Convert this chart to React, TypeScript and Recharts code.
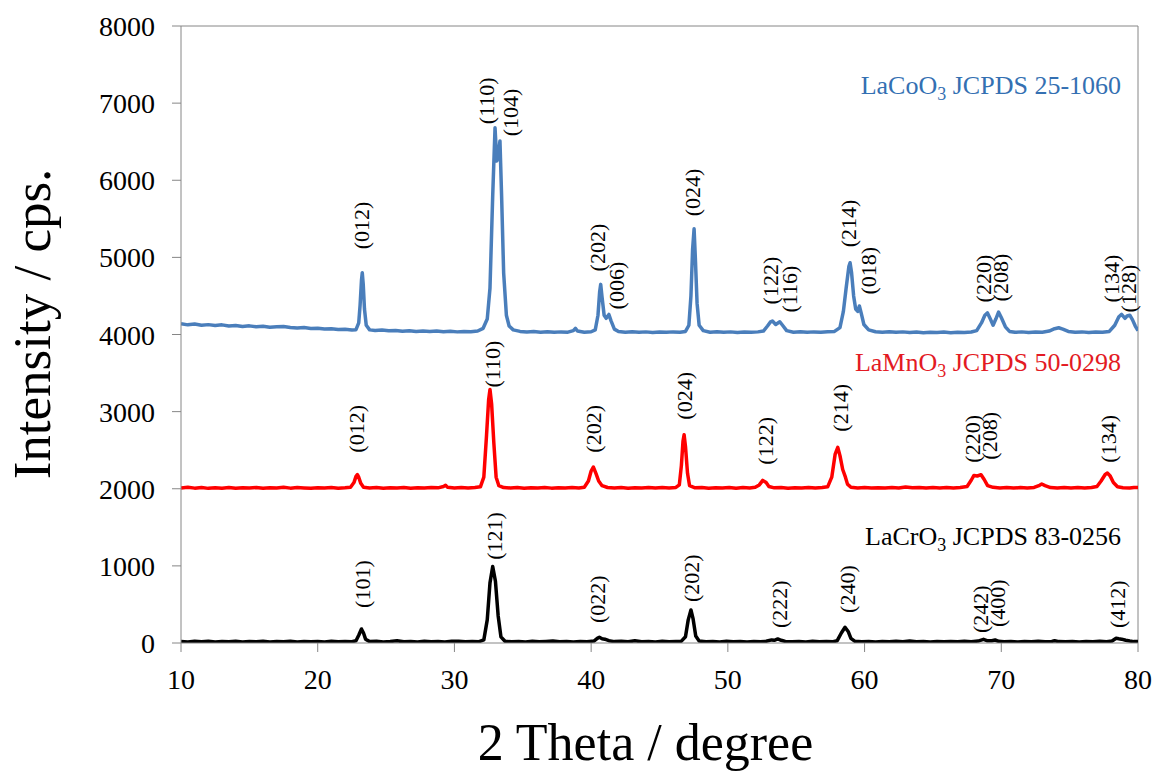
import React from "react"
import { LineChart, Line, XAxis, YAxis, ReferenceDot, ReferenceLine } from "recharts"

const FONT = '"Liberation Serif", "Times New Roman", serif'

// 2 theta / intensity pairs
const laCoO3: [number, number][] = [
  [10, 4140], [10.5, 4125], [11, 4135], [11.5, 4120], [12, 4128], [12.5, 4118], [13, 4125], [13.5, 4110],
  [14, 4118], [14.5, 4105], [15, 4112], [15.5, 4100], [16, 4106], [16.5, 4095], [17, 4100], [17.5, 4104],
  [18, 4092], [18.5, 4085], [19, 4090], [19.5, 4078], [20, 4082], [20.5, 4070], [21, 4074], [21.5, 4065],
  [22, 4068], [22.5, 4058], [22.8, 4062], [23.0, 4150], [23.1, 4380], [23.2, 4700], [23.26, 4800],
  [23.33, 4650], [23.42, 4330], [23.55, 4120], [23.8, 4060], [24.2, 4052], [24.7, 4058], [25.2, 4048],
  [25.7, 4052], [26.2, 4042], [26.7, 4048], [27.2, 4040], [27.7, 4046], [28.2, 4038], [28.7, 4044],
  [29.2, 4035], [29.7, 4042], [30.2, 4034], [30.7, 4040], [31.2, 4036], [31.7, 4045], [32.1, 4080],
  [32.4, 4200], [32.6, 4600], [32.8, 5800], [32.97, 6680], [33.1, 6250], [33.2, 6300], [33.33, 6510],
  [33.45, 5800], [33.6, 4800], [33.8, 4250], [34.0, 4110], [34.3, 4060], [34.8, 4040], [35.3, 4032],
  [35.8, 4038], [36.3, 4030], [36.8, 4036], [37.3, 4028], [37.8, 4034], [38.3, 4030], [38.7, 4050],
  [38.85, 4080], [39.0, 4045], [39.5, 4030], [40.0, 4036], [40.3, 4060], [40.5, 4250], [40.62, 4550],
  [40.7, 4650], [40.8, 4480], [40.95, 4250], [41.1, 4210], [41.3, 4260], [41.45, 4180], [41.7, 4070],
  [42.0, 4040], [42.5, 4030], [43.0, 4035], [43.5, 4028], [44.0, 4034], [44.5, 4026], [45.0, 4032],
  [45.5, 4028], [46.0, 4034], [46.5, 4030], [46.9, 4040], [47.15, 4120], [47.3, 4500], [47.42, 5100],
  [47.53, 5370], [47.62, 5000], [47.75, 4400], [47.9, 4120], [48.2, 4050], [48.7, 4030], [49.2, 4036],
  [49.7, 4028], [50.2, 4034], [50.7, 4026], [51.2, 4032], [51.7, 4028], [52.2, 4034], [52.6, 4045],
  [52.9, 4110], [53.1, 4160], [53.26, 4175], [53.5, 4130], [53.8, 4165], [54.0, 4120], [54.3, 4050],
  [54.8, 4030], [55.3, 4036], [55.8, 4028], [56.3, 4034], [56.8, 4030], [57.3, 4036], [57.8, 4040],
  [58.2, 4090], [58.45, 4300], [58.65, 4600], [58.85, 4880], [58.94, 4930], [59.05, 4800], [59.2, 4500],
  [59.35, 4330], [59.5, 4300], [59.62, 4370], [59.75, 4280], [59.95, 4130], [60.3, 4060], [60.8, 4035],
  [61.3, 4030], [61.8, 4036], [62.3, 4028], [62.8, 4034], [63.3, 4026], [63.8, 4032], [64.3, 4024],
  [64.8, 4030], [65.3, 4026], [65.8, 4032], [66.3, 4024], [66.8, 4030], [67.3, 4026], [67.8, 4032],
  [68.2, 4050], [68.55, 4150], [68.8, 4250], [68.99, 4280], [69.2, 4200], [69.4, 4120], [69.6, 4200],
  [69.8, 4290], [70.0, 4220], [70.3, 4100], [70.6, 4040], [71.0, 4028], [71.5, 4034], [72.0, 4026],
  [72.5, 4032], [73.0, 4030], [73.5, 4045], [73.9, 4075], [74.2, 4087], [74.5, 4070], [74.9, 4040],
  [75.4, 4030], [75.9, 4034], [76.4, 4026], [76.9, 4032], [77.4, 4028], [77.9, 4040], [78.3, 4120],
  [78.6, 4230], [78.8, 4260], [79.05, 4210], [79.2, 4240], [79.4, 4250], [79.6, 4190], [79.8, 4110],
  [80, 4050],
]

const laMnO3: [number, number][] = [
  [10, 2010], [10.5, 2018], [11, 2008], [11.5, 2015], [12, 2005], [12.5, 2014], [13, 2008], [13.5, 2016],
  [14, 2006], [14.5, 2013], [15, 2009], [15.5, 2017], [16, 2007], [16.5, 2014], [17, 2010], [17.5, 2018],
  [18, 2008], [18.5, 2015], [19, 2011], [19.5, 2006], [20, 2014], [20.5, 2009], [21, 2016], [21.5, 2008],
  [22, 2013], [22.4, 2020], [22.65, 2080], [22.8, 2160], [22.9, 2182], [23.0, 2150], [23.15, 2070],
  [23.35, 2020], [23.8, 2010], [24.3, 2016], [24.8, 2008], [25.3, 2014], [25.8, 2010], [26.3, 2017],
  [26.8, 2007], [27.3, 2014], [27.8, 2010], [28.3, 2016], [28.8, 2012], [29.2, 2030], [29.35, 2045],
  [29.5, 2018], [30, 2010], [30.5, 2016], [31, 2009], [31.5, 2015], [31.9, 2025], [32.15, 2150],
  [32.35, 2700], [32.5, 3150], [32.6, 3286], [32.72, 3100], [32.88, 2600], [33.05, 2150], [33.25, 2040],
  [33.6, 2015], [34.1, 2010], [34.6, 2016], [35.1, 2008], [35.6, 2014], [36.1, 2010], [36.6, 2017],
  [37.1, 2008], [37.6, 2014], [38.1, 2010], [38.6, 2016], [39.1, 2009], [39.5, 2020], [39.8, 2100],
  [40.0, 2230], [40.16, 2282], [40.35, 2200], [40.55, 2100], [40.8, 2040], [41.2, 2016], [41.7, 2010],
  [42.2, 2016], [42.7, 2008], [43.2, 2014], [43.7, 2010], [44.2, 2016], [44.7, 2009], [45.2, 2015],
  [45.7, 2011], [46.2, 2017], [46.45, 2050], [46.6, 2300], [46.72, 2620], [46.8, 2700], [46.9, 2550],
  [47.05, 2200], [47.2, 2040], [47.6, 2012], [48.1, 2016], [48.6, 2008], [49.1, 2014], [49.6, 2010],
  [50.1, 2016], [50.6, 2008], [51.1, 2015], [51.6, 2010], [52.0, 2018], [52.3, 2050], [52.55, 2108],
  [52.8, 2080], [53.0, 2030], [53.4, 2012], [53.9, 2016], [54.4, 2008], [54.9, 2014], [55.4, 2010],
  [55.9, 2017], [56.4, 2009], [56.9, 2015], [57.3, 2025], [57.6, 2150], [57.85, 2450], [58.04, 2537],
  [58.2, 2430], [58.4, 2250], [58.6, 2150], [58.75, 2060], [59.0, 2020], [59.5, 2010], [60.0, 2016],
  [60.5, 2009], [61, 2014], [61.5, 2010], [62, 2017], [62.5, 2011], [63, 2024], [63.5, 2012], [64, 2016],
  [64.5, 2009], [65, 2015], [65.5, 2011], [66, 2017], [66.5, 2010], [67, 2016], [67.5, 2030], [67.8, 2110],
  [68.0, 2173], [68.25, 2165], [68.52, 2182], [68.75, 2120], [69.0, 2040], [69.4, 2018], [69.9, 2010],
  [70.4, 2016], [70.9, 2009], [71.4, 2015], [71.9, 2011], [72.4, 2017], [72.8, 2045], [72.96, 2061],
  [73.2, 2040], [73.6, 2015], [74.1, 2010], [74.6, 2016], [75.1, 2009], [75.6, 2015], [76.1, 2011],
  [76.6, 2017], [77.0, 2030], [77.3, 2100], [77.6, 2185], [77.76, 2203], [77.95, 2170], [78.2, 2080],
  [78.5, 2025], [78.9, 2014], [79.4, 2010], [79.7, 2016], [80, 2017],
]

const laCrO3: [number, number][] = [
  [10, 20], [10.5, 14], [11, 24], [11.5, 16], [12, 22], [12.5, 13], [13, 21], [13.5, 15], [14, 23],
  [14.5, 14], [15, 20], [15.5, 16], [16, 22], [16.5, 13], [17, 19], [17.5, 15], [18, 24], [18.5, 14],
  [19, 21], [19.5, 16], [20, 20], [20.5, 13], [21, 22], [21.5, 15], [22, 19], [22.5, 16], [22.8, 30],
  [23.0, 100], [23.2, 182], [23.35, 130], [23.5, 50], [23.8, 18], [24.3, 22], [24.8, 14], [25.3, 20],
  [25.8, 28], [26.3, 15], [26.8, 21], [27.3, 14], [27.8, 24], [28.3, 16], [28.8, 20], [29.3, 13],
  [29.8, 22], [30.3, 24], [30.8, 15], [31.3, 20], [31.8, 17], [32.15, 40], [32.4, 300], [32.6, 780],
  [32.8, 991], [33.0, 800], [33.2, 350], [33.4, 80], [33.7, 22], [34.2, 16], [34.7, 21], [35.2, 14],
  [35.7, 22], [36.2, 16], [36.7, 20], [37.2, 25], [37.7, 15], [38.2, 21], [38.7, 14], [39.2, 20],
  [39.7, 16], [40.2, 25], [40.45, 60], [40.6, 74], [40.8, 55], [41.0, 50], [41.3, 30], [41.7, 18],
  [42.2, 22], [42.7, 15], [43.2, 28], [43.7, 16], [44.2, 20], [44.7, 14], [45.2, 22], [45.7, 16],
  [46.2, 20], [46.6, 24], [46.9, 80], [47.1, 300], [47.3, 428], [47.45, 320], [47.65, 90], [47.9, 25],
  [48.4, 16], [48.9, 21], [49.4, 14], [49.9, 22], [50.4, 16], [50.9, 20], [51.4, 14], [51.9, 21],
  [52.4, 16], [52.8, 22], [53.2, 40], [53.4, 35], [53.65, 52], [53.9, 35], [54.2, 20], [54.7, 15],
  [55.2, 21], [55.7, 14], [56.2, 22], [56.7, 16], [57.2, 20], [57.7, 16], [58.0, 30], [58.3, 130],
  [58.57, 204], [58.8, 150], [59.0, 60], [59.3, 22], [59.8, 16], [60.3, 21], [60.8, 14], [61.3, 20],
  [61.8, 16], [62.3, 22], [62.8, 15], [63.3, 25], [63.8, 16], [64.3, 20], [64.8, 14], [65.3, 21],
  [65.8, 16], [66.3, 20], [66.8, 15], [67.3, 22], [67.8, 16], [68.3, 25], [68.7, 48], [69.0, 28],
  [69.3, 30], [69.55, 39], [69.8, 22], [70.2, 16], [70.7, 21], [71.2, 14], [71.7, 20], [72.2, 16],
  [72.7, 22], [73.2, 15], [73.7, 20], [73.9, 30], [74.2, 18], [74.7, 15], [75.2, 21], [75.7, 14],
  [76.2, 20], [76.7, 16], [77.2, 22], [77.7, 16], [78.1, 25], [78.4, 61], [78.6, 55], [78.8, 50],
  [79.1, 35], [79.4, 25], [79.7, 18], [80, 20],
]

// hkl labels: text, 2 theta, intensity where the text starts
const coPeaks: [string, number, number][] = [
  ["(012)", 23.24, 5104], ["(110)", 32.38, 6727], ["(104)", 34.07, 6571], ["(202)", 40.43, 4818],
  ["(006)", 41.89, 4325], ["(024)", 47.45, 5532], ["(122)", 53.09, 4390], ["(116)", 54.48, 4286],
  ["(214)", 58.79, 5130], ["(018)", 60.26, 4519], ["(220)", 68.67, 4416], ["(208)", 69.91, 4429],
  ["(134)", 78.03, 4416], ["(128)", 79.28, 4286],
]
const mnPeaks: [string, number, number][] = [
  ["(012)", 22.87, 2468], ["(110)", 32.75, 3312], ["(202)", 40.14, 2468], ["(024)", 46.8, 2896],
  ["(122)", 52.72, 2312], ["(214)", 58.21, 2740], ["(220)", 67.86, 2338], ["(208)", 69.11, 2377],
  ["(134)", 77.81, 2338],
]
const crPeaks: [string, number, number][] = [
  ["(101)", 23.24, 455], ["(121)", 32.9, 1078], ["(022)", 40.5, 260], ["(202)", 47.31, 532],
  ["(222)", 53.75, 195], ["(240)", 58.72, 390], ["(242)", 68.45, 130], ["(400)", 69.69, 208],
  ["(412)", 78.47, 195],
]

const xTicks = [10, 20, 30, 40, 50, 60, 70, 80]
const yTicks = [0, 1000, 2000, 3000, 4000, 5000, 6000, 7000, 8000]

const phases = [
  { formula: "LaCo", card: "JCPDS 25-1060", color: "#3470b2", x: 78.76, y: 7117 },
  { formula: "LaMn", card: "JCPDS 50-0298", color: "#e31a23", x: 78.76, y: 3523 },
  { formula: "LaCr", card: "JCPDS 83-0256", color: "#000000", x: 78.76, y: 1273 },
]

const toPts = (arr: [number, number][]) => arr.map(([x, y]) => ({ x, y }))

const serif = { fontFamily: FONT }

function XTick({ x, y, payload }: any) {
  return (
    <text x={x} y={y} dy={20} textAnchor="middle" fontSize={28} fill="#000" style={serif}>
      {payload.value}
    </text>
  )
}

function YTick({ x, y, payload }: any) {
  return (
    <text x={x} y={y} dy={10} textAnchor="end" fontSize={28} fill="#000" style={serif}>
      {payload.value}
    </text>
  )
}

function PeakText({ viewBox, text }: any) {
  const cx = viewBox.x + (viewBox.width || 0) / 2
  const cy = viewBox.y + (viewBox.height || 0) / 2
  return (
    <text
      x={cx}
      y={cy}
      transform={`rotate(-90 ${cx} ${cy})`}
      textAnchor="start"
      dominantBaseline="central"
      fontSize={22}
      fill="#000"
      style={serif}
    >
      {text}
    </text>
  )
}

function PhaseText({ viewBox, p }: any) {
  const cx = viewBox.x + (viewBox.width || 0) / 2
  const cy = viewBox.y + (viewBox.height || 0) / 2
  return (
    <text x={cx} y={cy} textAnchor="end" fontSize={26} fill={p.color} style={serif}>
      <tspan>{p.formula}O</tspan>
      <tspan dy={6} fontSize={18}>3</tspan>
      <tspan dy={-6}>{" " + p.card}</tspan>
    </text>
  )
}

const peakDots = (list: [string, number, number][], key: string) =>
  list.map(([t, x, y]) => (
    <ReferenceDot
      key={key + t + x}
      x={x}
      y={y}
      r={0}
      stroke="none"
      fill="none"
      label={{ content: (p: any) => <PeakText viewBox={p.viewBox} text={t} /> }}
    />
  ))

export default function App() {
  const axisColor = "#868686"
  return (
    <div
      style={{ position: "absolute", left: 0, top: 0, width: 1156, height: 772, background: "#fff", fontFamily: FONT }}
    >
      <LineChart width={1156} height={772} margin={{ top: 26, right: 18, bottom: 0, left: 0 }}>
        <XAxis
          type="number"
          dataKey="x"
          domain={[10, 80]}
          ticks={xTicks}
          allowDataOverflow
          height={129}
          stroke={axisColor}
          tickSize={9}
          tickMargin={17}
          tick={<XTick />}
          label={{
            content: (p: any) => (
              <text
                x={p.viewBox.x + p.viewBox.width / 2 - 14}
                y={760}
                textAnchor="middle"
                fontSize={52}
                fill="#000"
                style={serif}
              >
                2 Theta / degree
              </text>
            ),
          }}
        />
        <YAxis
          type="number"
          domain={[0, 8000]}
          ticks={yTicks}
          allowDataOverflow
          width={181}
          stroke={axisColor}
          tickSize={9}
          tickMargin={17}
          tick={<YTick />}
          label={{
            content: () => (
              <text
                x={50}
                y={324}
                transform="rotate(-90 50 324)"
                textAnchor="middle"
                fontSize={53}
                fill="#000"
                style={serif}
              >
                Intensity / cps.
              </text>
            ),
          }}
        />
        <ReferenceLine y={8000} stroke={axisColor} />
        <ReferenceLine x={80} stroke={axisColor} />
        <Line
          data={toPts(laCoO3)}
          dataKey="y"
          type="linear"
          stroke="#4a7ebb"
          strokeWidth={3.5}
          strokeLinejoin="round"
          dot={false}
          isAnimationActive={false}
        />
        <Line
          data={toPts(laMnO3)}
          dataKey="y"
          type="linear"
          stroke="#ff0000"
          strokeWidth={3.5}
          strokeLinejoin="round"
          dot={false}
          isAnimationActive={false}
        />
        <Line
          data={toPts(laCrO3)}
          dataKey="y"
          type="linear"
          stroke="#000000"
          strokeWidth={3.5}
          strokeLinejoin="round"
          dot={false}
          isAnimationActive={false}
        />
        {peakDots(coPeaks, "co")}
        {peakDots(mnPeaks, "mn")}
        {peakDots(crPeaks, "cr")}
        {phases.map((p) => (
          <ReferenceDot
            key={p.formula}
            x={p.x}
            y={p.y}
            r={0}
            stroke="none"
            fill="none"
            label={{ content: (lp: any) => <PhaseText viewBox={lp.viewBox} p={p} /> }}
          />
        ))}
      </LineChart>
    </div>
  )
}
